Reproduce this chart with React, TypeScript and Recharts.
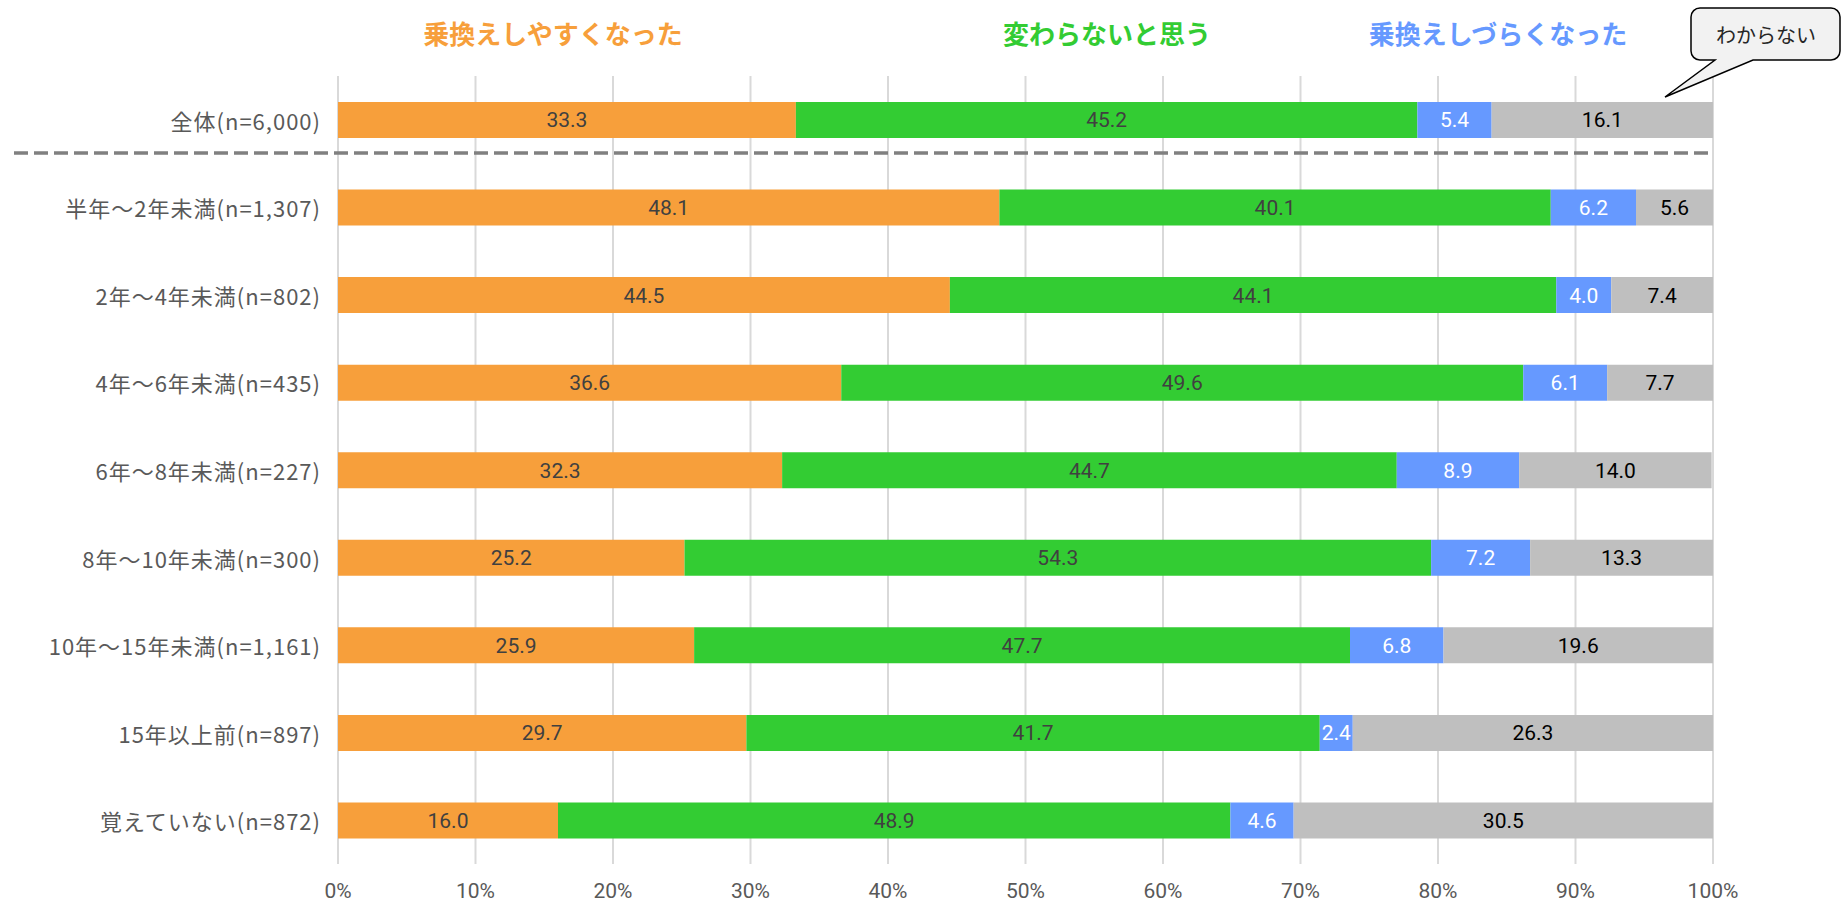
import React from 'react';
import { BarChart, Bar, XAxis, YAxis, CartesianGrid, LabelList } from 'recharts';

// 回答者の乗換え時期別
const categories = [
  '全体(n=6,000)',
  '半年～2年未満(n=1,307)',
  '2年～4年未満(n=802)',
  '4年～6年未満(n=435)',
  '6年～8年未満(n=227)',
  '8年～10年未満(n=300)',
  '10年～15年未満(n=1,161)',
  '15年以上前(n=897)',
  '覚えていない(n=872)',
];

const easier = [33.3, 48.1, 44.5, 36.6, 32.3, 25.2, 25.9, 29.7, 16.0];
const same = [45.2, 40.1, 44.1, 49.6, 44.7, 54.3, 47.7, 41.7, 48.9];
const harder = [5.4, 6.2, 4.0, 6.1, 8.9, 7.2, 6.8, 2.4, 4.6];
const unknown = [16.1, 5.6, 7.4, 7.7, 14.0, 13.3, 19.6, 26.3, 30.5];

const seriesNames = ['乗換えしやすくなった', '変わらないと思う', '乗換えしづらくなった', 'わからない'];
const xTicks = [0, 10, 20, 30, 40, 50, 60, 70, 80, 90, 100];

const COLORS = {
  easier: '#F79F3B',
  same: '#33CC33',
  harder: '#6699FF',
  unknown: '#BFBFBF',
};

const data = categories.map((name, i) => ({
  name,
  easier: easier[i],
  same: same[i],
  harder: harder[i],
  unknown: unknown[i],
}));

const JP = "'Noto Sans CJK JP', 'Noto Sans', sans-serif";
const NUM = "Roboto, 'Noto Sans', sans-serif";

const fmt = (v: any) => Number(v).toFixed(1);

const YTick = ({ x, y, payload }: any) => (
  <text x={x + 1} y={y} textAnchor="end" dominantBaseline="central" fill="#595959" fontSize={22}
    letterSpacing={1} fontFamily={JP}>
    {payload.value}
  </text>
);

const XTick = ({ x, y, payload }: any) => (
  <text x={x} y={y + 27} textAnchor="middle" dominantBaseline="central" fill="#595959" fontSize={21}
    fontFamily="'Liberation Sans Narrow', 'Roboto', sans-serif">
    {`${payload.value}%`}
  </text>
);

// 上部の見出しと吹き出し、区切り線
const Overlay = () => (
  <svg width={1842} height={902} style={{ position: 'absolute', left: 0, top: 0, pointerEvents: 'none' }}>
    <text x={553} y={32} textAnchor="middle" dominantBaseline="central" fontSize={26} fontWeight={700} fill={COLORS.easier} fontFamily={JP}>
      {seriesNames[0]}
    </text>
    <text x={1107} y={32} textAnchor="middle" dominantBaseline="central" fontSize={26} fontWeight={700} fill={COLORS.same} fontFamily={JP}>
      {seriesNames[1]}
    </text>
    <text x={1498} y={32} textAnchor="middle" dominantBaseline="central" fontSize={26} fontWeight={700} fill={COLORS.harder} fontFamily={JP}>
      {seriesNames[2]}
    </text>
    <path
      d="M1700,8 H1831 A9,9 0 0 1 1840,17 V51 A9,9 0 0 1 1831,60 H1753 L1665,97 L1715,60 H1700 A9,9 0 0 1 1691,51 V17 A9,9 0 0 1 1700,8 Z"
      fill="#F2F2F2" stroke="#000" strokeWidth={1.5}
    />
    <text x={1766} y={34} textAnchor="middle" dominantBaseline="central" fontSize={20} fill="#262626" fontFamily={JP}>
      {seriesNames[3]}
    </text>
    <line x1={14} x2={1713} y1={153} y2={153} stroke="#808080" strokeWidth={3.5} strokeDasharray="14 6" />
  </svg>
);

export default function App() {
  return (
    <div style={{ position: 'absolute', left: 0, top: 0, width: 1842, height: 902, background: '#fff' }}>
      <BarChart
        width={1842}
        height={902}
        data={data}
        layout="vertical"
        margin={{ top: 76, right: 129, bottom: 8, left: 0 }}
        barSize={36}
      >
        <CartesianGrid horizontal={false} vertical stroke="#D9D9D9" strokeWidth={2} />
        <XAxis
          type="number"
          domain={[0, 100]}
          ticks={xTicks}
          allowDataOverflow
          axisLine={false}
          tickLine={false}
          tickSize={0}
          tickMargin={0}
          height={30}
          tick={<XTick />}
          interval={0}
        />
        <YAxis
          type="category"
          dataKey="name"
          width={338}
          axisLine={false}
          tickLine={false}
          tickMargin={12}
          tick={<YTick />}
          interval={0}
        />
        <Bar dataKey="easier" name={seriesNames[0]} stackId="a" fill={COLORS.easier} isAnimationActive={false}>
          <LabelList dataKey="easier" position="center" formatter={fmt} fill="#404040" fontSize={21} fontFamily={NUM} />
        </Bar>
        <Bar dataKey="same" name={seriesNames[1]} stackId="a" fill={COLORS.same} isAnimationActive={false}>
          <LabelList dataKey="same" position="center" formatter={fmt} fill="#404040" fontSize={21} fontFamily={NUM} />
        </Bar>
        <Bar dataKey="harder" name={seriesNames[2]} stackId="a" fill={COLORS.harder} isAnimationActive={false}>
          <LabelList dataKey="harder" position="center" formatter={fmt} fill="#FFFFFF" fontSize={21} fontFamily={NUM} />
        </Bar>
        <Bar dataKey="unknown" name={seriesNames[3]} stackId="a" fill={COLORS.unknown} isAnimationActive={false}>
          <LabelList dataKey="unknown" position="center" formatter={fmt} fill="#000000" fontSize={21} fontFamily={NUM} />
        </Bar>
      </BarChart>
      <Overlay />
    </div>
  );
}
